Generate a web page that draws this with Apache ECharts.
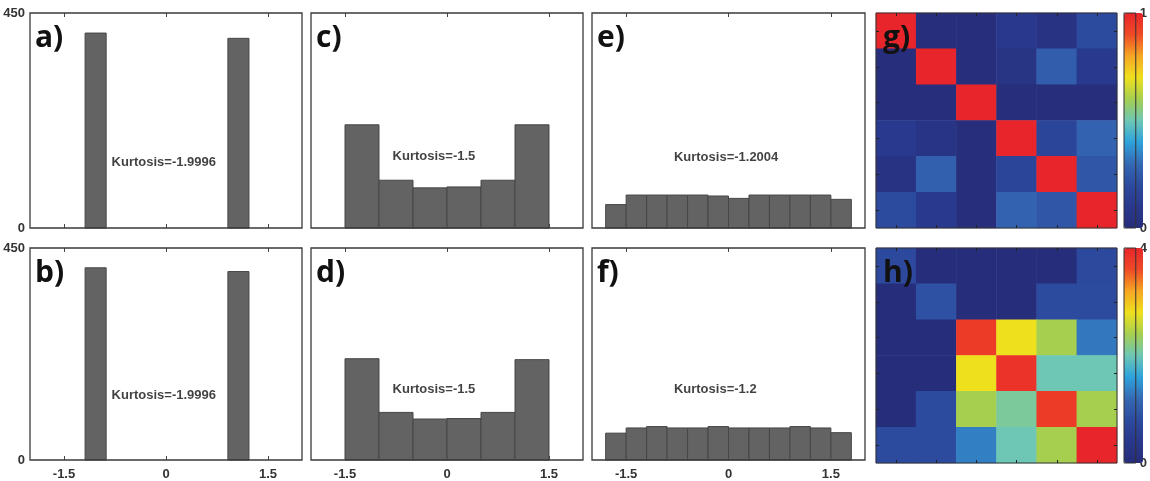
<!DOCTYPE html>
<html>
<head>
<meta charset="utf-8">
<script src="https://cdn.jsdelivr.net/npm/echarts@6/dist/echarts.min.js"></script>
<style>
html,body{margin:0;padding:0;background:#fff}
#main{width:1150px;height:481px}
</style>
</head>
<body>
<div id="main"></div>
<script>
// histogram bins [left edge, right edge] and counts
var edgesA = [[-1.19, -0.88], [0.91, 1.22]];
var countsA = [408, 397];
var countsB = [408, 400];
var edgesC = [[-1.5, -1.0], [-1.0, -0.5], [-0.5, 0], [0, 0.5], [0.5, 1.0], [1.0, 1.5]];
var countsC = [216, 100, 84, 86, 100, 216];
var countsD = [215, 101, 87, 88, 101, 213];
var edgesE = [[-1.8, -1.5], [-1.5, -1.2], [-1.2, -0.9], [-0.9, -0.6], [-0.6, -0.3], [-0.3, 0],
              [0, 0.3], [0.3, 0.6], [0.6, 0.9], [0.9, 1.2], [1.2, 1.5], [1.5, 1.8]];
var countsE = [49, 69, 69, 69, 69, 67, 62, 69, 69, 69, 69, 60];
var countsF = [57, 68, 71, 68, 68, 71, 68, 68, 68, 71, 68, 58];

var letters = ["a)", "b)", "c)", "d)", "e)", "f)", "g)", "h)"];
var kurtText = ["Kurtosis=-1.9996", "Kurtosis=-1.9996", "Kurtosis=-1.5", "Kurtosis=-1.5", "Kurtosis=-1.2004", "Kurtosis=-1.2"];
var kurtX = [-0.8, -0.8, -0.8, -0.8, -0.8, -0.8];
var kurtY = [137, 137, 150, 150, 148, 149];
var xTicks = [-1.5, 0, 1.5];
var yMax = 450;

// matrices, top row first
var matG = [
  [1, 0.02, 0.02, 0.10, 0.05, 0.20],
  [0.02, 1, 0.02, 0.06, 0.26, 0.11],
  [0.02, 0.02, 1, 0.02, 0.02, 0.02],
  [0.11, 0.07, 0.02, 1, 0.17, 0.28],
  [0.05, 0.27, 0.02, 0.17, 1, 0.24],
  [0.20, 0.11, 0.02, 0.28, 0.24, 1]
];
var matH = [
  [0.76, 0.05, 0.05, 0.05, 0.05, 0.76],
  [0.05, 0.88, 0.05, 0.05, 0.80, 0.80],
  [0.05, 0.05, 3.75, 2.80, 2.40, 1.30],
  [0.05, 0.05, 2.80, 3.85, 2.00, 2.00],
  [0.05, 0.80, 2.40, 2.10, 3.75, 2.40],
  [0.80, 0.80, 1.35, 2.00, 2.40, 4.00]
];
var maxG = 1, maxH = 4;
var cells = ["1", "2", "3", "4", "5", "6"];

var jet = ["#262d79", "#29388c", "#2c4b9f", "#3569b4", "#2ea3dc", "#6ec7b4",
           "#a6cf50", "#efe01e", "#f6a623", "#ef4a27", "#e8252a"];

var histPanels = [
  {edges: edgesA, counts: countsA, col: 0, row: 0},
  {edges: edgesA, counts: countsB, col: 0, row: 1},
  {edges: edgesC, counts: countsC, col: 1, row: 0},
  {edges: edgesC, counts: countsD, col: 1, row: 1},
  {edges: edgesE, counts: countsE, col: 2, row: 0},
  {edges: edgesE, counts: countsF, col: 2, row: 1}
];

var colLeft = [30, 311, 592, 876, 1124];
var colWidth = [272, 272, 273, 241, 19];
var rowTop = [13, 248];
var rowH = 215;
var labelFont = {fontFamily: "Liberation Sans", fontWeight: "bold", fontSize: 13, color: "#333"};

var grid = [], xAxis = [], yAxis = [], series = [], title = [], visualMap = [];

histPanels.forEach(function (p, i) {
  grid.push({left: colLeft[p.col], top: rowTop[p.row], width: colWidth[p.col], height: rowH,
    show: true, borderColor: "#3a3a3a", borderWidth: 1.3, z: 3});
  var xb = xAxis.length;
  xAxis.push({type: "value", gridIndex: i, min: -2, max: 2, position: "bottom",
    axisLine: {show: false}, splitLine: {show: false},
    axisTick: {show: true, inside: true, length: 4, customValues: xTicks, lineStyle: {color: "#444"}},
    axisLabel: Object.assign({show: p.row === 1, customValues: xTicks, margin: 8}, labelFont)});
  xAxis.push({type: "value", gridIndex: i, min: -2, max: 2, position: "top",
    axisLine: {show: false}, splitLine: {show: false}, axisLabel: {show: false},
    axisTick: {show: true, inside: true, length: 4, customValues: xTicks, lineStyle: {color: "#444"}}});
  var yi = yAxis.length;
  yAxis.push({type: "value", gridIndex: i, min: 0, max: yMax, interval: yMax,
    axisLine: {show: false}, axisTick: {show: false}, splitLine: {show: false},
    axisLabel: Object.assign({show: p.col === 0, margin: 5}, labelFont)});
  series.push({type: "custom", xAxisIndex: xb, yAxisIndex: yi, silent: true,
    data: p.edges.map(function (e, k) { return [e[0], e[1], p.counts[k]]; }),
    encode: {x: [0, 1], y: 2},
    renderItem: function (params, api) {
      var p0 = api.coord([api.value(0), api.value(2)]);
      var p1 = api.coord([api.value(1), 0]);
      return {type: "rect",
        shape: {x: p0[0], y: p0[1], width: p1[0] - p0[0], height: p1[1] - p0[1]},
        style: {fill: "#636363", stroke: "#474747", lineWidth: 1}};
    }});
  series.push({type: "scatter", xAxisIndex: xb, yAxisIndex: yi, silent: true,
    data: [[kurtX[i], kurtY[i]]], symbolSize: 0,
    label: {show: true, position: "right", distance: 0, formatter: kurtText[i],
      fontFamily: "Liberation Sans", fontWeight: "bold", fontSize: 13, color: "#111"}});
  title.push({text: letters[i], left: colLeft[p.col] + 5, top: rowTop[p.row] + 10, padding: 0,
    textStyle: {fontFamily: "Open Sans", fontWeight: "bold", fontSize: 30, color: "#111"}});
});

[{mat: matG, max: maxG, row: 0, letter: letters[6]},
 {mat: matH, max: maxH, row: 1, letter: letters[7]}].forEach(function (h) {
  // heatmap
  var gi = grid.length;
  grid.push({left: colLeft[3], top: rowTop[h.row], width: colWidth[3], height: rowH,
    show: true, borderColor: "#333", borderWidth: 1, z: 3});
  var tick = {show: true, inside: true, length: 3, alignWithLabel: true, lineStyle: {color: "#222"}};
  var xb = xAxis.length;
  ["bottom", "top"].forEach(function (pos) {
    xAxis.push({type: "category", gridIndex: gi, data: cells, position: pos, z: 5,
      axisLine: {show: false}, axisLabel: {show: false}, splitLine: {show: false}, axisTick: tick});
  });
  var yl = yAxis.length;
  ["left", "right"].forEach(function (pos) {
    yAxis.push({type: "category", gridIndex: gi, data: cells, position: pos, inverse: true, z: 5,
      axisLine: {show: false}, axisLabel: {show: false}, splitLine: {show: false}, axisTick: tick});
  });
  var data = [];
  h.mat.forEach(function (r, ri) { r.forEach(function (v, ci) { data.push([ci, ri, v]); }); });
  var si = series.length;
  series.push({type: "heatmap", xAxisIndex: xb, yAxisIndex: yl, data: data, silent: true});
  title.push({text: h.letter, left: colLeft[3] + 7, top: rowTop[h.row] + 10, padding: 0,
    textStyle: {fontFamily: "Open Sans", fontWeight: "bold", fontSize: 30, color: "#111"}});

  // colorbar
  visualMap.push({type: "continuous", seriesIndex: si, min: 0, max: h.max, orient: "vertical",
    left: colLeft[4], top: rowTop[h.row], itemWidth: colWidth[4], itemHeight: rowH, padding: 0,
    calculable: false, hoverLink: false, inRange: {color: jet}});
  var ci = grid.length;
  grid.push({left: colLeft[4], top: rowTop[h.row], width: colWidth[4], height: rowH,
    show: true, borderColor: "#333", borderWidth: 1, z: 6});
  xAxis.push({type: "value", gridIndex: ci, show: false, min: 0, max: 1});
  yAxis.push({type: "value", gridIndex: ci, position: "right", min: 0, max: h.max, interval: h.max,
    axisLine: {show: false}, axisTick: {show: false}, splitLine: {show: false},
    axisLabel: Object.assign({margin: 4}, labelFont)});
});

var chart = echarts.init(document.getElementById("main"));
chart.setOption({
  animation: false,
  title: title,
  grid: grid,
  xAxis: xAxis,
  yAxis: yAxis,
  visualMap: visualMap,
  series: series
});
</script>
</body>
</html>
